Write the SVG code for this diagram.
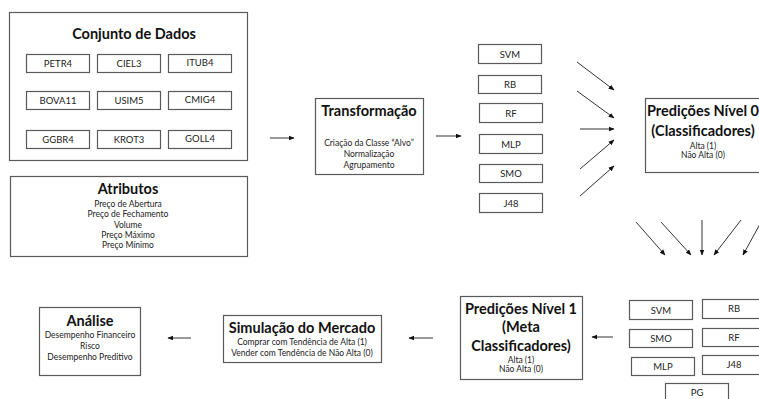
<svg xmlns="http://www.w3.org/2000/svg" width="759" height="399" viewBox="0 0 759 399">
  <style>
    .box { fill: #ffffff; stroke: #5a5a5a; stroke-width: 1.2; }
    .title { font-family: Lato, "Liberation Sans", sans-serif; font-weight: bold; font-size: 14.5px; fill: #111; text-anchor: middle; }
    .lbl { font-family: Lato, "Liberation Sans", sans-serif; font-size: 9.5px; fill: #222; text-anchor: middle; }
    .sub { font-family: Lato, "Liberation Sans", sans-serif; font-size: 8.5px; fill: #222; text-anchor: middle; }
    .edge { stroke: #333; stroke-width: 1; fill: none; marker-end: url(#arrow); }
  </style>
  <defs>
    <marker id="arrow" viewBox="0 0 10 10" refX="9" refY="5" markerWidth="6" markerHeight="6" markerUnits="userSpaceOnUse" orient="auto">
      <path d="M0,1 L10,5 L0,9 z" fill="#111"/>
    </marker>
  </defs>

  <rect width="759" height="399" fill="#ffffff"/>

  <!-- Dataset -->
  <g id="conjunto-dados">
    <rect class="box" x="9.5" y="12.5" width="238" height="148"/>
    <text class="title" x="134" y="39">Conjunto de Dados</text>
    <rect class="box" x="26.5" y="54.5" width="63" height="18"/>
    <text class="lbl" x="58" y="67">PETR4</text>
    <rect class="box" x="97.5" y="54.5" width="63" height="18"/>
    <text class="lbl" x="129" y="67">CIEL3</text>
    <rect class="box" x="168.5" y="54.5" width="63" height="18"/>
    <text class="lbl" x="200" y="66">ITUB4</text>
    <rect class="box" x="26.5" y="91.5" width="63" height="18"/>
    <text class="lbl" x="58" y="104">BOVA11</text>
    <rect class="box" x="97.5" y="91.5" width="63" height="18"/>
    <text class="lbl" x="129" y="104">USIM5</text>
    <rect class="box" x="168.5" y="91.5" width="63" height="18"/>
    <text class="lbl" x="200" y="103">CMIG4</text>
    <rect class="box" x="26.5" y="130.5" width="63" height="18"/>
    <text class="lbl" x="58" y="143">GGBR4</text>
    <rect class="box" x="97.5" y="130.5" width="63" height="18"/>
    <text class="lbl" x="129" y="143">KROT3</text>
    <rect class="box" x="168.5" y="130.5" width="63" height="18"/>
    <text class="lbl" x="200" y="142">GOLL4</text>
  </g>

  <!-- Attributes -->
  <g id="atributos">
    <rect class="box" x="10.5" y="176.5" width="237" height="80"/>
    <text class="title" x="128" y="194">Atributos</text>
    <text class="sub" x="128" y="207">Preço de Abertura</text>
    <text class="sub" x="128" y="217">Preço de Fechamento</text>
    <text class="sub" x="128" y="227.5">Volume</text>
    <text class="sub" x="128" y="237.5">Preço Máximo</text>
    <text class="sub" x="128" y="248">Preço Mínimo</text>
  </g>

  <!-- Transformation -->
  <g id="transformacao">
    <rect class="box" x="315.5" y="98.5" width="108" height="76"/>
    <text class="title" x="369" y="116">Transformação</text>
    <text class="sub" x="369" y="146">Criação da Classe  “Alvo”</text>
    <text class="sub" x="369" y="157">Normalização</text>
    <text class="sub" x="369" y="168">Agrupamento</text>
  </g>

  <!-- Level-0 classifiers -->
  <g id="clf-svm"><rect class="box" x="478.5" y="44.5" width="63" height="19"/><text class="lbl" x="510" y="57.5">SVM</text></g>
  <g id="clf-rb"><rect class="box" x="478.5" y="75.5" width="63" height="18"/><text class="lbl" x="510" y="88">RB</text></g>
  <g id="clf-rf"><rect class="box" x="479.5" y="103.5" width="63" height="19"/><text class="lbl" x="511" y="116.5">RF</text></g>
  <g id="clf-mlp"><rect class="box" x="479.5" y="134.5" width="63" height="19"/><text class="lbl" x="511" y="147.5">MLP</text></g>
  <g id="clf-smo"><rect class="box" x="479.5" y="164.5" width="63" height="18"/><text class="lbl" x="511" y="177">SMO</text></g>
  <g id="clf-j48"><rect class="box" x="479.5" y="193.5" width="63" height="19"/><text class="lbl" x="511" y="206.5">J48</text></g>

  <!-- Level-0 predictions -->
  <g id="predicoes-nivel-0">
    <rect class="box" x="645.5" y="98.5" width="132" height="74"/>
    <text class="title" x="703" y="116">Predições Nível 0</text>
    <text class="title" x="703" y="136">(Classificadores)</text>
    <text class="sub" x="703" y="149">Alta (1)</text>
    <text class="sub" x="703" y="158">Não Alta (0)</text>
  </g>

  <!-- Meta classifiers -->
  <g id="meta-svm"><rect class="box" x="629.5" y="300.5" width="63" height="19"/><text class="lbl" x="661" y="313.5">SVM</text></g>
  <g id="meta-rb"><rect class="box" x="702.5" y="299.5" width="64" height="19"/><text class="lbl" x="734" y="312">RB</text></g>
  <g id="meta-smo"><rect class="box" x="629.5" y="329.5" width="63" height="18"/><text class="lbl" x="661" y="342">SMO</text></g>
  <g id="meta-rf"><rect class="box" x="702.5" y="328.5" width="64" height="18"/><text class="lbl" x="734" y="341">RF</text></g>
  <g id="meta-mlp"><rect class="box" x="631.5" y="357.5" width="63" height="18"/><text class="lbl" x="663" y="370">MLP</text></g>
  <g id="meta-j48"><rect class="box" x="702.5" y="355.5" width="64" height="19"/><text class="lbl" x="734" y="368">J48</text></g>
  <g id="meta-pg"><rect class="box" x="665.5" y="383.5" width="63" height="19"/><text class="lbl" x="697" y="396">PG</text></g>

  <!-- Level-1 predictions -->
  <g id="predicoes-nivel-1">
    <rect class="box" x="460.5" y="296.5" width="122" height="83"/>
    <text class="title" x="521" y="313.5">Predições Nível 1</text>
    <text class="title" x="521" y="332">(Meta</text>
    <text class="title" x="521" y="350.5">Classificadores)</text>
    <text class="sub" x="521" y="363">Alta (1)</text>
    <text class="sub" x="521" y="372">Não Alta (0)</text>
  </g>

  <!-- Market simulation -->
  <g id="simulacao-mercado">
    <rect class="box" x="223.5" y="315.5" width="158" height="47"/>
    <text class="title" x="302" y="332.5">Simulação do Mercado</text>
    <text class="sub" x="302" y="345">Comprar com Tendência de Alta (1)</text>
    <text class="sub" x="302" y="355.5">Vender com Tendência de Não Alta (0)</text>
  </g>

  <!-- Analysis -->
  <g id="analise">
    <rect class="box" x="39.5" y="307.5" width="101" height="68"/>
    <text class="title" x="90" y="325.5">Análise</text>
    <text class="sub" x="90" y="337.5">Desempenho  Financeiro</text>
    <text class="sub" x="90" y="348.5">Risco</text>
    <text class="sub" x="90" y="360">Desempenho  Preditivo</text>
  </g>

  <!-- Connectors -->
  <g id="connectors">
    <line class="edge" x1="270" y1="138" x2="294" y2="138"/>
    <line class="edge" x1="436" y1="136" x2="461" y2="136"/>

    <line class="edge" x1="577" y1="62" x2="614" y2="90"/>
    <line class="edge" x1="577" y1="91" x2="614" y2="118"/>
    <line class="edge" x1="580" y1="129" x2="614" y2="129"/>
    <line class="edge" x1="580" y1="169" x2="614" y2="140"/>
    <line class="edge" x1="580" y1="196" x2="614" y2="166"/>

    <line class="edge" x1="636" y1="222" x2="665" y2="255"/>
    <line class="edge" x1="661" y1="222" x2="691" y2="255"/>
    <line class="edge" x1="702" y1="220" x2="702" y2="255"/>
    <line class="edge" x1="741" y1="220" x2="714" y2="255"/>
    <line class="edge" x1="760" y1="224" x2="743" y2="255"/>

    <line class="edge" x1="613" y1="337" x2="592" y2="337"/>
    <line class="edge" x1="433" y1="338" x2="409" y2="338"/>
    <line class="edge" x1="191" y1="338" x2="168" y2="338"/>
  </g>
</svg>
